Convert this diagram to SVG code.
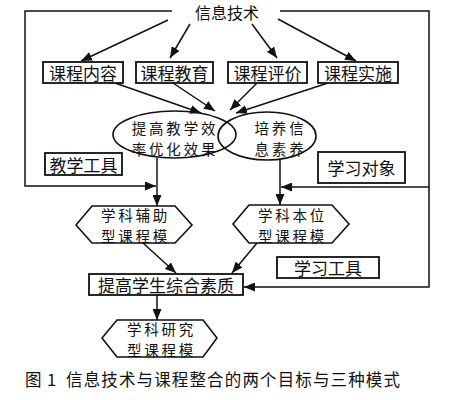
<svg xmlns="http://www.w3.org/2000/svg" width="453" height="400" viewBox="0 0 453 400">
<defs>
<marker id="ah" viewBox="0 0 11 9" refX="11" refY="4.5" markerWidth="11" markerHeight="9" markerUnits="userSpaceOnUse" orient="auto">
<path d="M0,0 L11,4.5 L0,9 Z" fill="#111"/>
</marker>
</defs>
<style>
.bx{fill:#fff;stroke:#111;stroke-width:1.8}
.sh{fill:none;stroke:#111;stroke-width:1.6}
.ar{fill:none;stroke:#111;stroke-width:1.5;marker-end:url(#ah)}
.t{font-family:"Noto Sans CJK SC","Noto Sans",sans-serif;font-size:17px;fill:#111;text-anchor:middle;dominant-baseline:central}
.t2{font-family:"Noto Sans CJK SC","Noto Sans",sans-serif;font-size:14.5px;letter-spacing:2.8px;fill:#111;text-anchor:middle;dominant-baseline:central}
.cap{font-family:"Noto Sans CJK SC","Noto Sans",sans-serif;font-size:16.5px;fill:#111}
</style>
<rect width="453" height="400" fill="#fff"/>
<g id="connectors">
<polyline class="ar" points="172,11 25,11 25,186 156,186"/>
<polyline class="ar" points="280,11 429,11 429,287 244,287"/>
<polyline class="ar" points="429,187 281,187"/>
<line class="ar" x1="168" y1="20" x2="81" y2="61"/>
<line class="ar" x1="190" y1="24" x2="170" y2="58"/>
<line class="ar" x1="252" y1="24" x2="277" y2="58"/>
<line class="ar" x1="278" y1="19" x2="356" y2="61"/>
<line class="ar" x1="115" y1="83" x2="201" y2="113"/>
<line class="ar" x1="173" y1="83" x2="215" y2="111"/>
<line class="ar" x1="257" y1="83" x2="230" y2="110"/>
<line class="ar" x1="328" y1="83" x2="236" y2="113"/>
<line class="ar" x1="157" y1="158" x2="157" y2="206"/>
<line class="ar" x1="280" y1="160" x2="280" y2="205"/>
<line class="ar" x1="143" y1="243" x2="176" y2="273"/>
<line class="ar" x1="257" y1="243" x2="232" y2="273"/>
<line class="ar" x1="157" y1="295" x2="157" y2="320"/>
</g>
<g id="title"><text class="t" x="227" y="12" style="font-size:16px">信息技术</text></g>
<g id="n1"><rect class="bx" x="43" y="62" width="80" height="21"/><text class="t" x="83" y="72.5">课程内容</text></g>
<g id="n2"><rect class="bx" x="136" y="62" width="77" height="21"/><text class="t" x="174.5" y="72.5">课程教育</text></g>
<g id="n3"><rect class="bx" x="228" y="62" width="79" height="21"/><text class="t" x="267.5" y="72.5">课程评价</text></g>
<g id="n4"><rect class="bx" x="318" y="62" width="80" height="21"/><text class="t" x="358" y="72.5">课程实施</text></g>
<g id="e1"><ellipse class="sh" cx="174.5" cy="134.5" rx="61.5" ry="23.5"/><text class="t2"><tspan x="175" y="127">提高教学效</tspan><tspan x="175" y="148">率优化效果</tspan></text></g>
<g id="e2"><ellipse class="sh" cx="267" cy="136" rx="49" ry="24"/><text class="t2"><tspan x="280.5" y="127">培养信</tspan><tspan x="280.5" y="148">息素养</tspan></text></g>
<g id="n5"><rect class="bx" x="45" y="153" width="77" height="22"/><text class="t" x="83.5" y="164">教学工具</text></g>
<g id="n6"><rect class="bx" x="318" y="152" width="87" height="31"/><text class="t" x="361.5" y="167.5">学习对象</text></g>
<g id="h1"><polygon class="sh" points="76,225 92,206 175,206 192,225 175,243 92,243"/><text class="t2"><tspan x="135.5" y="214">学科辅助</tspan><tspan x="135.5" y="235">型课程模</tspan></text></g>
<g id="h2"><polygon class="sh" points="233,224 249,205 332,205 349,224 332,243 249,243"/><text class="t2"><tspan x="292.5" y="213.5">学科本位</tspan><tspan x="292.5" y="234.5">型课程模</tspan></text></g>
<g id="n7"><rect class="bx" x="277" y="257" width="102" height="21"/><text class="t" x="328" y="267.5">学习工具</text></g>
<g id="n8"><rect class="bx" x="89" y="274" width="154" height="21"/><text class="t" x="166" y="284.5">提高学生综合素质</text></g>
<g id="h3"><polygon class="sh" points="102,338 117,320 203,320 217,338 203,357 117,357"/><text class="t2"><tspan x="161.5" y="328">学科研究</tspan><tspan x="161.5" y="349">型课程模</tspan></text></g>
<g id="caption"><text class="cap" y="386"><tspan x="25">图</tspan><tspan x="47">1</tspan><tspan x="66" textLength="334" lengthAdjust="spacing">信息技术与课程整合的两个目标与三种模式</tspan></text></g>
</svg>
